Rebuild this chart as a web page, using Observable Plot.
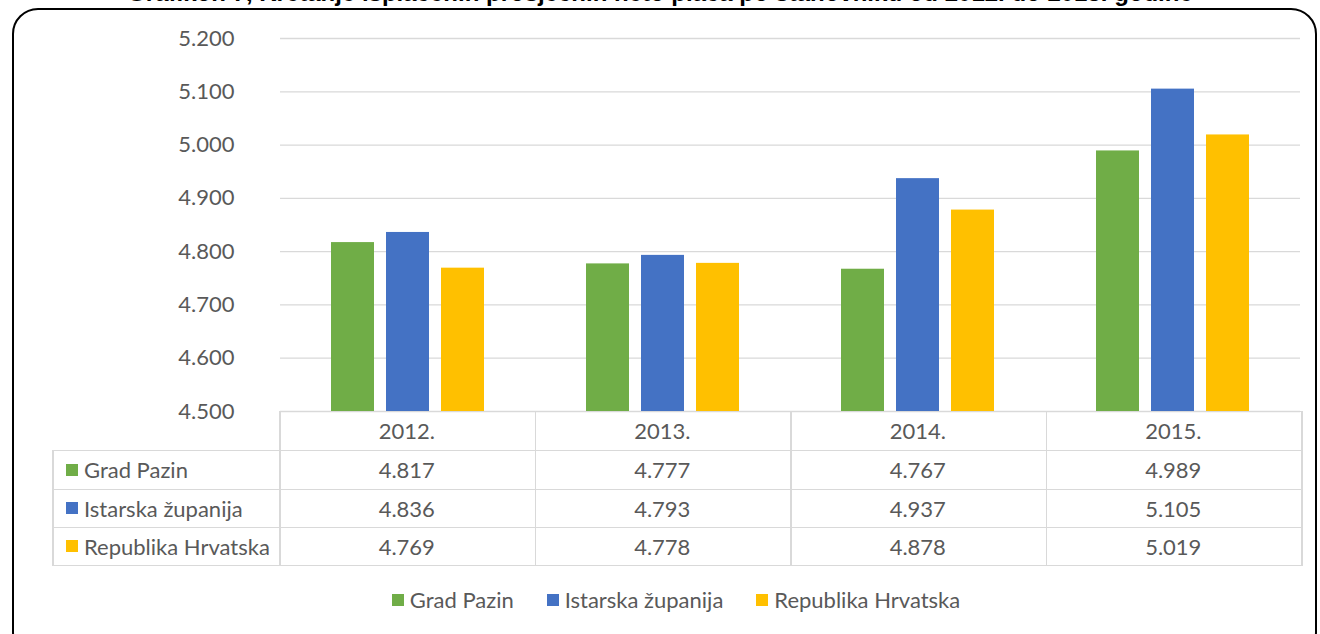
<!DOCTYPE html>
<html>
<head>
<meta charset="utf-8">
<script src="https://cdn.jsdelivr.net/npm/d3@7"></script>
<script src="https://cdn.jsdelivr.net/npm/@observablehq/plot@0.6"></script>
<style>
  html, body { margin: 0; padding: 0; background: #fff; }
  body { width: 1320px; height: 634px; position: relative; overflow: hidden; font-family: Lato, "Open Sans", sans-serif; }
  #frame { position: absolute; left: 12px; top: 8px; width: 1305px; height: 650px; border: 2px solid #000; border-radius: 26px; box-sizing: border-box; }
  #title { position: absolute; left: 0; width: 1320px; top: -21px; text-align: center; font: bold 24px "Liberation Sans", Arial, sans-serif; color: #000; white-space: nowrap; }
  #chart { position: absolute; left: 0; top: 0; }
  .cell { position: absolute; box-sizing: border-box; color: #595959; font-size: 22px; display: flex; align-items: center; justify-content: center; }
  .line { position: absolute; background: #d9d9d9; }
  .mk { display: inline-block; width: 12px; height: 12px; margin-right: 6px; }
  #legend { position: absolute; top: 586px; left: 0; width: 1352px; display: flex; justify-content: center; gap: 33px; color: #595959; font-size: 22px; }
  #legend span.item { display: flex; align-items: center; }
</style>
</head>
<body>
<div id="title"></div>
<div id="frame"></div>
<div id="chart"></div>
<div id="table"></div>
<div id="legend"></div>
<script>
const titleText = "Grafikon 7, Kretanje isplaćenih prosječnih neto plaća po stanovniku od 2012. do 2015. godine";
const years = ["2012.", "2013.", "2014.", "2015."];
const series = ["Grad Pazin", "Istarska županija", "Republika Hrvatska"];
const colors = ["#70ad47", "#4472c4", "#ffc000"];
const gradPazin = [4817, 4777, 4767, 4989];
const istarska = [4836, 4793, 4937, 5105];
const hrvatska = [4769, 4778, 4878, 5019];
const yTicks = [4500, 4600, 4700, 4800, 4900, 5000, 5100, 5200];

(function () {
const values = [gradPazin, istarska, hrvatska];
const data = [];
years.forEach((yr, i) => series.forEach((s, j) => data.push({year: yr, series: s, value: values[j][i]})));

const locale = d3.formatLocale({decimal: ",", thousands: ".", grouping: [3], currency: ["", ""]});
const fmt = locale.format(",.0f");

document.getElementById("title").textContent = titleText;

const W = 1320, pLeft = 279, pRight = 1301, pTop = 38, pBottom = 411, mb = 20;

const chart = Plot.plot({
  width: W,
  height: pBottom + mb,
  marginLeft: pLeft,
  marginRight: W - pRight,
  marginTop: pTop,
  marginBottom: mb,
  style: {fontFamily: "Lato, sans-serif", fontSize: "22px", color: "#595959", background: "transparent"},
  fx: {domain: years, padding: 0, axis: null},
  x: {domain: series, paddingInner: 0.21, paddingOuter: 0.89, axis: null},
  y: {domain: [4500, 5200], axis: null},
  color: {domain: series, range: colors},
  marks: [
    Plot.gridY(yTicks, {stroke: "#d9d9d9", strokeOpacity: 1, strokeWidth: 1.3}),
    Plot.barY(data, {fx: "year", x: "series", y1: 4500, y2: "value", fill: "series"}),
    Plot.axisY(yTicks, {tickSize: 0, tickPadding: 46, tickFormat: fmt, fill: "#595959", label: null})
  ]
});
document.getElementById("chart").appendChild(chart);

const table = document.getElementById("table");
const colW = (pRight - pLeft) / years.length;
const rowTops = [411, 450, 489, 527, 565];
const tLeft = 52;
function line(x, y, w, h) {
  const d = document.createElement("div");
  d.className = "line";
  Object.assign(d.style, {left: x + "px", top: y + "px", width: w + "px", height: h + "px"});
  table.appendChild(d);
}
function cell(x, y, w, h, html, justify) {
  const d = document.createElement("div");
  d.className = "cell";
  Object.assign(d.style, {left: x + "px", top: y + "px", width: w + "px", height: h + "px"});
  if (justify) d.style.justifyContent = justify;
  d.innerHTML = html;
  table.appendChild(d);
}
line(pLeft, rowTops[0] - 0.5, pRight - pLeft + 1.5, 1.5);
for (let r = 1; r < rowTops.length; r++) line(tLeft, rowTops[r] - 0.5, pRight - tLeft + 1.5, 1.5);
line(tLeft, rowTops[1], 1.5, rowTops[4] - rowTops[1]);
for (let c = 0; c <= years.length; c++) line(pLeft + c * colW, rowTops[0], 1.5, rowTops[4] - rowTops[0] + 1);
years.forEach((yr, i) => cell(pLeft + i * colW, rowTops[0], colW, rowTops[1] - rowTops[0], yr));
series.forEach((s, j) => {
  const y = rowTops[j + 1], h = rowTops[j + 2] - rowTops[j + 1];
  cell(tLeft + 14, y, pLeft - tLeft - 14, h, `<span class="mk" style="background:${colors[j]}"></span>${s}`, "flex-start");
  years.forEach((yr, i) => cell(pLeft + i * colW, y, colW, h, fmt(values[j][i])));
});

const legend = document.getElementById("legend");
series.forEach((s, j) => {
  const it = document.createElement("span");
  it.className = "item";
  it.innerHTML = `<span class="mk" style="background:${colors[j]}"></span>${s}`;
  legend.appendChild(it);
});
})();
</script>
</body>
</html>
